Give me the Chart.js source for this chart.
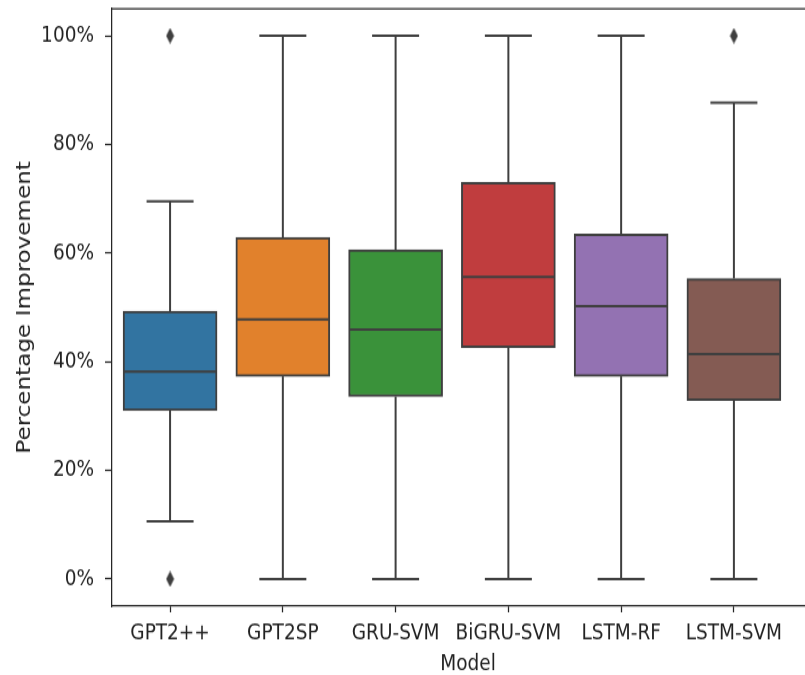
<!DOCTYPE html>
<html>
<head>
<meta charset="utf-8">
<script src="https://cdn.jsdelivr.net/npm/chart.js@4.4.1/dist/chart.umd.min.js"></script>
<style>
  html, body { margin: 0; padding: 0; background: #ffffff; }
  #frame { width: 805px; height: 675px; overflow: hidden; position: relative; background: #ffffff; }
  /* the figure is drawn at 830x549 and stretched to the page height */
  #stretch { width: 830px; height: 549px; transform: scaleY(1.2295); transform-origin: 0 0; }
  canvas { display: block; }
</style>
</head>
<body>
<div id="frame">
  <div id="stretch">
    <canvas id="chart" width="830" height="549"></canvas>
  </div>
</div>
<script>
// Box statistics per model (percentage improvement)
const categories   = ['GPT2++', 'GPT2SP', 'GRU-SVM', 'BiGRU-SVM', 'LSTM-RF', 'LSTM-SVM'];
const whiskerLow   = [10.6, 0, 0, 0, 0, 0];
const quartile1    = [31.0, 37.3, 33.6, 42.6, 37.3, 32.9];
const medians      = [38.2, 47.8, 45.9, 55.6, 50.2, 41.4];
const quartile3    = [49.3, 62.9, 60.6, 73.0, 63.5, 55.3];
const whiskerHigh  = [69.5, 100, 100, 100, 100, 87.7];
// Outlier points: model index and value
const outlierModel = [0, 0, 5];
const outlierValue = [100, 0, 100];
// Y-axis tick labels
const yTickValues  = [0, 20, 40, 60, 80, 100];

const boxColors = ['#3274a1', '#e1812c', '#3a923a', '#c03d3e', '#9372b2', '#845b53'];
const lineColor = '#3f3f3f';
const spineColor = '#262626';
const textColor = '#222222';
const BOX_W = 94;
const CAP_W = 47;

// thin diamond marker for outliers
function makeDiamond() {
  const c = document.createElement('canvas');
  c.width = 9; c.height = 13;
  const g = c.getContext('2d');
  g.fillStyle = lineColor;
  g.beginPath();
  g.moveTo(4.5, 0);
  g.lineTo(8.5, 6.5);
  g.lineTo(4.5, 13);
  g.lineTo(0.5, 6.5);
  g.closePath();
  g.fill();
  return c;
}

// whiskers, caps and median lines
const boxLines = {
  id: 'boxLines',
  afterDatasetsDraw(chart) {
    const { ctx, scales: { x, y } } = chart;
    ctx.save();
    ctx.strokeStyle = lineColor;
    ctx.lineWidth = 2;
    ctx.lineCap = 'butt';
    categories.forEach((_, i) => {
      const cx = x.getPixelForValue(i);
      const seg = (x1, y1, x2, y2) => {
        ctx.beginPath(); ctx.moveTo(x1, y1); ctx.lineTo(x2, y2); ctx.stroke();
      };
      // upper whisker + cap
      seg(cx, y.getPixelForValue(quartile3[i]), cx, y.getPixelForValue(whiskerHigh[i]));
      seg(cx - CAP_W / 2, y.getPixelForValue(whiskerHigh[i]), cx + CAP_W / 2, y.getPixelForValue(whiskerHigh[i]));
      // lower whisker + cap
      seg(cx, y.getPixelForValue(quartile1[i]), cx, y.getPixelForValue(whiskerLow[i]));
      seg(cx - CAP_W / 2, y.getPixelForValue(whiskerLow[i]), cx + CAP_W / 2, y.getPixelForValue(whiskerLow[i]));
      // median
      seg(cx - BOX_W / 2 + 1, y.getPixelForValue(medians[i]), cx + BOX_W / 2 - 1, y.getPixelForValue(medians[i]));
    });
    ctx.restore();
  }
};

// top spine of the axes frame
const frameTop = {
  id: 'frameTop',
  afterDraw(chart) {
    const { ctx, chartArea } = chart;
    ctx.save();
    ctx.strokeStyle = spineColor;
    ctx.lineWidth = 1.25;
    ctx.beginPath();
    ctx.moveTo(chartArea.left, chartArea.top);
    ctx.lineTo(chartArea.right, chartArea.top);
    ctx.stroke();
    ctx.restore();
  }
};

const font = (size) => ({ family: '"DejaVu Sans", sans-serif', size: size });

new Chart(document.getElementById('chart'), {
  type: 'bar',
  data: {
    datasets: [
      {
        type: 'bar',
        data: categories.map((_, i) => ({ x: i, y: [quartile1[i], quartile3[i]] })),
        backgroundColor: boxColors,
        borderColor: lineColor,
        borderWidth: 2,
        borderSkipped: false,
        barThickness: BOX_W
      },
      {
        type: 'scatter',
        data: outlierModel.map((m, k) => ({ x: m, y: outlierValue[k] })),
        pointStyle: makeDiamond(),
        pointRadius: 5,
        showLine: false
      }
    ]
  },
  options: {
    responsive: false,
    animation: false,
    devicePixelRatio: 1,
    layout: { padding: { top: 7, left: 0, right: 0, bottom: 0 } },
    plugins: { legend: { display: false }, tooltip: { enabled: false } },
    scales: {
      x: {
        type: 'linear',
        offset: false,
        min: -0.515,
        max: 5.799,
        afterBuildTicks(scale) { scale.ticks = categories.map((_, i) => ({ value: i })); },
        afterFit(scale) {
          scale.height = 56;
          scale.paddingLeft = 0;
          scale.paddingRight = 0;
        },
        ticks: {
          callback: (v) => categories[v] ?? '',
          color: textColor,
          font: font(18.5),
          padding: 6,
          maxRotation: 0,
          autoSkip: false
        },
        grid: { offset: false, drawOnChartArea: false, drawTicks: true, tickLength: 5, tickColor: spineColor, tickWidth: 1.25 },
        border: { display: true, color: spineColor, width: 1.25 },
        title: { display: true, text: 'Model', color: textColor, font: font(18.5), padding: { top: 0, bottom: -2 } }
      },
      y: {
        min: -5,
        max: 105,
        afterBuildTicks(scale) { scale.ticks = yTickValues.map(v => ({ value: v })); },
        afterFit(scale) {
          scale.width = 112;
          scale.paddingTop = 0;
          scale.paddingBottom = 0;
        },
        ticks: {
          callback: (v) => v + '%',
          color: textColor,
          font: font(18.5),
          padding: 11
        },
        grid: { drawOnChartArea: false, drawTicks: true, tickLength: 7, tickColor: spineColor, tickWidth: 1.25 },
        border: { display: true, color: spineColor, width: 1.25 },
        title: { display: true, text: 'Percentage Improvement', color: textColor, font: font(18.8), padding: { top: 14, bottom: 0 } }
      }
    }
  },
  plugins: [boxLines, frameTop]
});
</script>
</body>
</html>
